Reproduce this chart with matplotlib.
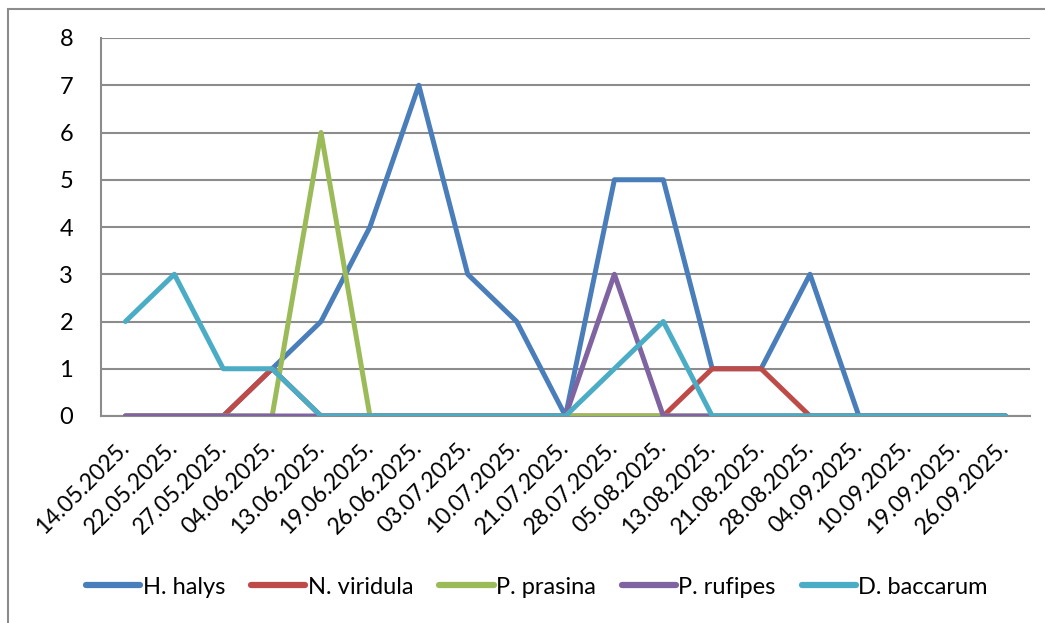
import matplotlib
matplotlib.use('Agg')
import matplotlib.pyplot as plt
from matplotlib.patches import Rectangle

plt.rcParams['font.family'] = ['Lato', 'DejaVu Sans']

# data
dates = ['14.05.2025.', '22.05.2025.', '27.05.2025.', '04.06.2025.', '13.06.2025.',
         '19.06.2025.', '26.06.2025.', '03.07.2025.', '10.07.2025.', '21.07.2025.',
         '28.07.2025.', '05.08.2025.', '13.08.2025.', '21.08.2025.', '28.08.2025.',
         '04.09.2025.', '10.09.2025.', '19.09.2025.', '26.09.2025.']
h_halys = [0, 0, 0, 1, 2, 4, 7, 3, 2, 0, 5, 5, 1, 1, 3, 0, 0, 0, 0]
n_viridula = [0, 0, 0, 1, 0, 0, 0, 0, 0, 0, 0, 0, 1, 1, 0, 0, 0, 0, 0]
p_prasina = [0, 0, 0, 0, 6, 0, 0, 0, 0, 0, 0, 0, 0, 0, 0, 0, 0, 0, 0]
p_rufipes = [0, 0, 0, 0, 0, 0, 0, 0, 0, 0, 3, 0, 0, 0, 0, 0, 0, 0, 0]
d_baccarum = [2, 3, 1, 1, 0, 0, 0, 0, 0, 0, 1, 2, 0, 0, 0, 0, 0, 0, 0]

series = [
    ('H. halys', h_halys, '#4A7EBB'),
    ('N. viridula', n_viridula, '#BE4B48'),
    ('P. prasina', p_prasina, '#9BBB59'),
    ('P. rufipes', p_rufipes, '#8064A2'),
    ('D. baccarum', d_baccarum, '#4BACC6'),
]

fig = plt.figure(figsize=(10.45, 6.23), dpi=100)
ax = fig.add_axes([101 / 1045, 1 - 416 / 623, (1030 - 101) / 1045, (416 - 38) / 623])

# rahmen um das ganze diagramm
fig.patches.append(Rectangle((8 / 1045, -0.01), 1.1, 1 - 9 / 623 + 0.01,
                             transform=fig.transFigure, fill=False,
                             edgecolor='#8c8c8c', linewidth=1.5))

x = list(range(len(dates)))
for name, vals, color in series:
    ax.plot(x, vals, color=color, linewidth=3.6, label=name,
            solid_capstyle='round', solid_joinstyle='round', zorder=3)

ax.set_xlim(-0.5, len(dates) - 0.5)
ax.set_ylim(0, 8)
ax.set_yticks(range(0, 9))
ax.yaxis.grid(True, color='#8c8c8c', linewidth=1.5)
ax.set_axisbelow(True)
ax.set_xticks(x)
ax.set_xticklabels(dates, rotation=45, ha='right', va='center', rotation_mode='anchor')
ax.tick_params(axis='both', length=0)
ax.tick_params(axis='y', pad=20, labelsize=17)
ax.tick_params(axis='x', pad=20, labelsize=16.5)

for side in ['top', 'right']:
    ax.spines[side].set_visible(False)
for side in ['left', 'bottom']:
    ax.spines[side].set_color('#8c8c8c')
    ax.spines[side].set_linewidth(1.5)

leg = fig.legend(loc='center', bbox_to_anchor=(537 / 1045, 1 - 587 / 623), ncol=5,
                 frameon=False, fontsize=17, handlelength=2.3, handletextpad=0.1,
                 columnspacing=1.1)
for line in leg.get_lines():
    line.set_linewidth(4.5)

fig.savefig('out.png', dpi=100)
